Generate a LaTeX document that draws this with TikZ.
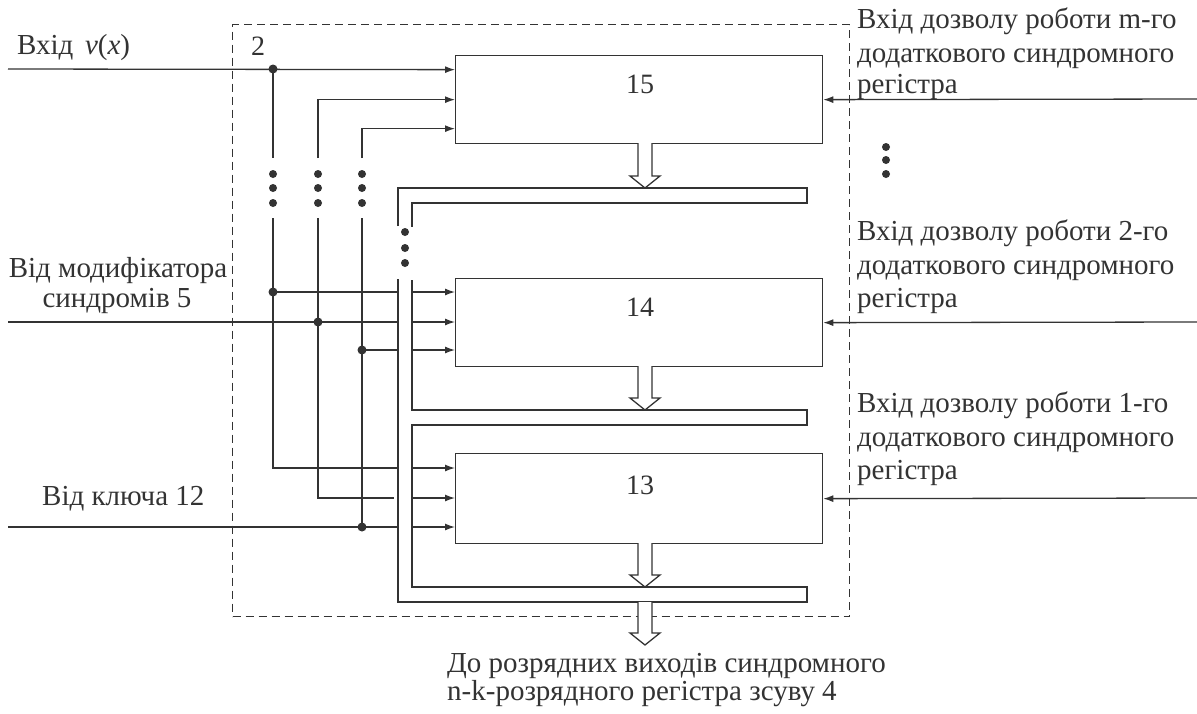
\documentclass[tikz,border=0pt]{standalone}
\usepackage{fontspec}
\setmainfont{Liberation Serif}
\usetikzlibrary{arrows.meta,calc}
\definecolor{ink}{HTML}{333333}
\newcommand\harrow[3]{%
  \draw[wire,fill=white,line join=miter] (#1-7,#2) -- (#1-7,#3-12) -- (#1-15,#3-12) -- (#1,#3) -- (#1+15,#3-12) -- (#1+7,#3-12) -- (#1+7,#2);}
\begin{document}
\begin{tikzpicture}[x=1pt,y=-1pt,
  wire/.style={draw=ink,line width=1.3pt},
  arr/.style={-{Latex[length=10pt,width=7pt]}},
  block/.style={draw=ink,line width=1.3pt,minimum width=367pt,minimum height=88pt,inner sep=0pt,anchor=north west},
  dot/.style={circle,fill=ink,inner sep=0pt,minimum size=9pt},
  sdot/.style={circle,fill=ink,inner sep=0pt,minimum size=8pt},
  txt/.style={inner sep=0pt,anchor=base west,text=ink,font=\fontsize{29}{34}\selectfont},
  ctxt/.style={txt,anchor=base},
  num/.style={inner sep=0pt,text=ink,font=\fontsize{28}{32}\selectfont}]
\useasboundingbox (0,0) rectangle (1197,713);
\fill[white] (0,0) rectangle (1197,713);

% dashed system box
\node[draw=ink,line width=1.2pt,dash pattern=on 8pt off 5pt,minimum width=617pt,minimum height=592pt,inner sep=0pt,anchor=north west] (sys) at (232,24) {};
\node[num] (lbl2) at (258,46) {2};

% blocks
\node[block] (b15) at (455,55) {};
\node[block] (b14) at (455,278) {};
\node[block,minimum height=90pt] (b13) at (455,453) {};
\node[num] (n15) at (640,84) {15};
\node[num] (n14) at (640,307) {14};
\node[num] (n13) at (640,485) {13};

% bus (comb)
\draw[wire,line join=miter] (398,226) -- (398,188) -- (807,188) -- (807,203) -- (412,203) -- (412,227);
\draw[wire,line join=miter] (398,279) -- (398,602) -- (807,602) -- (807,587) -- (412,587) -- (412,425) -- (807,425) -- (807,410) -- (412,410) -- (412,280);
\foreach \y [count=\i] in {232,248,263} \node[sdot] (bd\i) at (405,\y) {};

% hollow arrows
\harrow{645}{143}{188}
\harrow{645}{366}{410}
\harrow{645}{543}{587}
\harrow{645}{602}{645}

% inputs to block 15
\coordinate (inV) at (8,69);
\node[dot] (j1) at (273,69) {};
\draw[wire,arr] (inV) -- ([yshift=30pt]b15.west);
\coordinate (v1t) at (273,158);
\coordinate (v2t) at (318,158);
\coordinate (v3t) at (362,158);
\draw[wire] (j1.center) -- (v1t);
\draw[wire,arr] (v2t) |- (b15.west);
\draw[wire,arr] (v3t) |- ([yshift=-29pt]b15.west);
\foreach \x/\n in {273/a,318/b,362/c}
  \foreach \y [count=\i] in {174,188,203} \node[sdot] (vd\n\i) at (\x,\y) {};

% lower vertical segments
\coordinate (v1b) at (273,218);
\coordinate (v2b) at (318,218);
\coordinate (v3b) at (362,218);
\coordinate (c13a) at (398,468);
\coordinate (c13b) at (394,498);
\coordinate (c13c) at (398,527);
\draw[wire] (v1b) |- (c13a);
\draw[wire] (v2b) |- (c13b);
\node[dot] (j6) at (362,527) {};
\draw[wire] (v3b) -- (j6.center);
\coordinate (inK) at (8,527);
\draw[wire] (inK) -- (c13c);

% block 14 inputs
\node[dot] (j2) at (273,292) {};
\node[dot] (j3) at (318,322) {};
\node[dot] (j4) at (362,350) {};
\coordinate (inM) at (8,322);
\coordinate (c14a) at (398,292);
\coordinate (c14b) at (398,322);
\coordinate (c14c) at (398,350);
\draw[wire] (j2.center) -- (c14a);
\draw[wire] (inM) -- (c14b);
\draw[wire] (j4.center) -- (c14c);
\coordinate (e14a) at (412,292);
\coordinate (e14b) at (412,322);
\coordinate (e14c) at (412,350);
\draw[wire,arr] (e14a) -- (e14a -| b14.west);
\draw[wire,arr] (e14b) -- (e14b -| b14.west);
\draw[wire,arr] (e14c) -- (e14c -| b14.west);

% block 13 inputs (after bus)
\coordinate (e13a) at (412,468);
\coordinate (e13b) at (412,498);
\coordinate (e13c) at (412,527);
\draw[wire,arr] (e13a) -- (e13a -| b13.west);
\draw[wire,arr] (e13b) -- (e13b -| b13.west);
\draw[wire,arr] (e13c) -- (e13c -| b13.west);

% right enable inputs
\coordinate (r15) at (1197,99);
\coordinate (r14) at (1197,322);
\coordinate (r13) at (1197,498);
\draw[wire,arr] (r15) -- (b15.east);
\draw[wire,arr] (r14) -- (b14.east);
\draw[wire,arr] (r13) -- (b13.east);
\foreach \y [count=\i] in {147,160,174} \node[sdot] (rd\i) at (886,\y) {};

% left labels
\node[txt] (tV) at (17,54) {Вхід\hspace{0.4em}\textit{v}(\textit{x})};
\node[ctxt] (tM1) at (118,277) {Від модифікатора};
\node[ctxt] (tM2) at (117,307) {синдромів 5};
\node[txt] (tK) at (42,505) {Від ключа 12};

% right labels
\node[txt] (tR1a) at (857,28) {Вхід дозволу роботи m-го};
\node[txt] (tR1b) at (857,62) {додаткового синдромного};
\node[txt] (tR1c) at (857,93) {регістра};
\node[txt] (tR2a) at (857,240) {Вхід дозволу роботи 2-го};
\node[txt] (tR2b) at (857,274) {додаткового синдромного};
\node[txt] (tR2c) at (857,307) {регістра};
\node[txt] (tR3a) at (857,412) {Вхід дозволу роботи 1-го};
\node[txt] (tR3b) at (857,446) {додаткового синдромного};
\node[txt] (tR3c) at (857,479) {регістра};

% bottom label
\node[txt] (tB1) at (447,672) {До розрядних виходів синдромного};
\node[txt] (tB2) at (447,700) {n-k-розрядного регістра зсуву 4};
\end{tikzpicture}
\end{document}
